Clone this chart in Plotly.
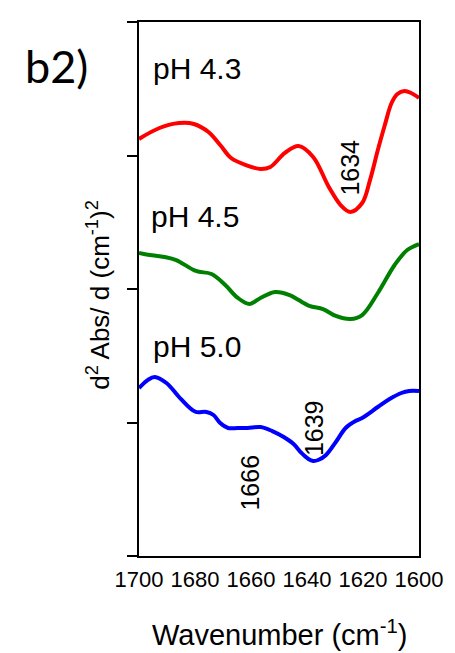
import plotly.graph_objects as go

# Data (wavenumber in cm-1, second-derivative in arbitrary offset units)
wn_43 = [1700.0, 1692.7, 1685.7, 1680.4, 1675.2, 1671.0, 1667.1, 1661.9, 1656.6, 1653.1,
         1647.9, 1643.0, 1637.8, 1632.2, 1628.0, 1624.5, 1620.3, 1617.5, 1614.7, 1612.2,
         1609.8, 1607.7, 1605.2, 1602.8, 1600.0]
d2_43 = [3.124, 3.206, 3.243, 3.236, 3.176, 3.079, 2.981, 2.929, 2.899, 2.914,
         3.019, 3.071, 2.989, 2.764, 2.629, 2.577, 2.644, 2.816, 3.041, 3.228,
         3.393, 3.461, 3.483, 3.468, 3.431]

wn_45 = [1700.0, 1696.2, 1690.9, 1686.7, 1679.7, 1674.1, 1669.2, 1664.7, 1660.5, 1656.6,
         1651.4, 1646.2, 1639.2, 1634.3, 1629.7, 1624.5, 1620.3, 1614.7, 1608.7, 1604.2,
         1600.0]
d2_45 = [2.270, 2.255, 2.240, 2.217, 2.135, 2.112, 2.030, 1.933, 1.888, 1.933,
         1.978, 1.955, 1.873, 1.850, 1.798, 1.775, 1.805, 1.970, 2.180, 2.292,
         2.337]

wn_50 = [1700.0, 1696.9, 1694.4, 1690.2, 1685.7, 1682.2, 1679.7, 1675.9, 1673.4, 1671.0,
         1668.2, 1664.7, 1661.2, 1656.6, 1652.4, 1648.3, 1644.8, 1642.0, 1639.5, 1637.8,
         1636.0, 1633.2, 1629.7, 1626.2, 1622.7, 1620.3, 1614.7, 1610.5, 1606.3, 1603.5,
         1600.0]
d2_50 = [1.258, 1.318, 1.341, 1.296, 1.191, 1.116, 1.079, 1.079, 1.056, 0.996,
         0.959, 0.959, 0.959, 0.966, 0.936, 0.891, 0.839, 0.772, 0.727, 0.712,
         0.719, 0.757, 0.854, 0.959, 1.011, 1.034, 1.116, 1.176, 1.221, 1.236,
         1.236]

x_ticks = [1700, 1680, 1660, 1640, 1620, 1600]
y_ticks = [0, 1, 2, 3, 4]

series_labels = ["pH 4.3", "pH 4.5", "pH 5.0"]
peak_labels = ["1634", "1639", "1666"]

FONT = "Liberation Sans, Arial, sans-serif"

fig = go.Figure()
for wn, d2, col, name in [(wn_43, d2_43, "#ff0000", series_labels[0]),
                          (wn_45, d2_45, "#008000", series_labels[1]),
                          (wn_50, d2_50, "#0000ff", series_labels[2])]:
    fig.add_trace(go.Scatter(x=wn, y=d2, mode="lines", name=name,
                             line=dict(color=col, width=4, shape="spline", smoothing=1.0),
                             showlegend=False))

ann = []
# pH labels
for txt, xv, yv in [(series_labels[0], 1695.8, 3.65), (series_labels[1], 1696.4, 2.54),
                    (series_labels[2], 1695.8, 1.57)]:
    ann.append(dict(x=xv, y=yv, xref="x", yref="y", text=txt, showarrow=False,
                    xanchor="left", yanchor="middle", font=dict(size=30, color="black", family=FONT)))
# peak labels (rotated)
for txt, xv, yv in [(peak_labels[0], 1624.8, 2.906), (peak_labels[1], 1637.4, 0.96),
                    (peak_labels[2], 1660.5, 0.547)]:
    ann.append(dict(x=xv, y=yv, xref="x", yref="y", text=txt, showarrow=False, textangle=-90,
                    xanchor="center", yanchor="middle", font=dict(size=25, color="black", family=FONT)))
# panel label
ann.append(dict(x=-0.294, y=0.918, xref="paper", yref="paper", text="b2)", showarrow=False,
                xanchor="center", yanchor="middle", font=dict(size=45, color="black", family="Lato, sans-serif")))
# y axis title
ann.append(dict(x=-0.143, y=0.489, xref="paper", yref="paper",
                text="d<sup>2</sup> Abs/ d (cm<sup>-1</sup>)<sup>2</sup>", showarrow=False, textangle=-90,
                xanchor="center", yanchor="middle", font=dict(size=26, color="black", family=FONT)))
# x axis title
ann.append(dict(x=0.5, y=-0.144, xref="paper", yref="paper",
                text="Wavenumber (cm<sup>-1</sup>)", showarrow=False,
                xanchor="center", yanchor="middle", font=dict(size=29, color="black", family=FONT)))

fig.update_layout(
    width=455, height=653,
    margin=dict(l=139, r=30, t=22, b=97),
    paper_bgcolor="white", plot_bgcolor="white",
    annotations=ann,
    xaxis=dict(range=[1700, 1600], tickvals=x_ticks, ticktext=[str(v) for v in x_ticks],
               ticks="", showgrid=False, zeroline=False, showline=True, mirror=True,
               linecolor="black", linewidth=2, ticklabelstandoff=3,
               tickfont=dict(size=22, color="black", family=FONT)),
    yaxis=dict(range=[0, 4], tickvals=y_ticks, showticklabels=False, ticks="outside",
               ticklen=10, tickwidth=2, tickcolor="black", showgrid=False, zeroline=False,
               showline=True, mirror=True, linecolor="black", linewidth=2),
)

fig.write_html("out.html")
